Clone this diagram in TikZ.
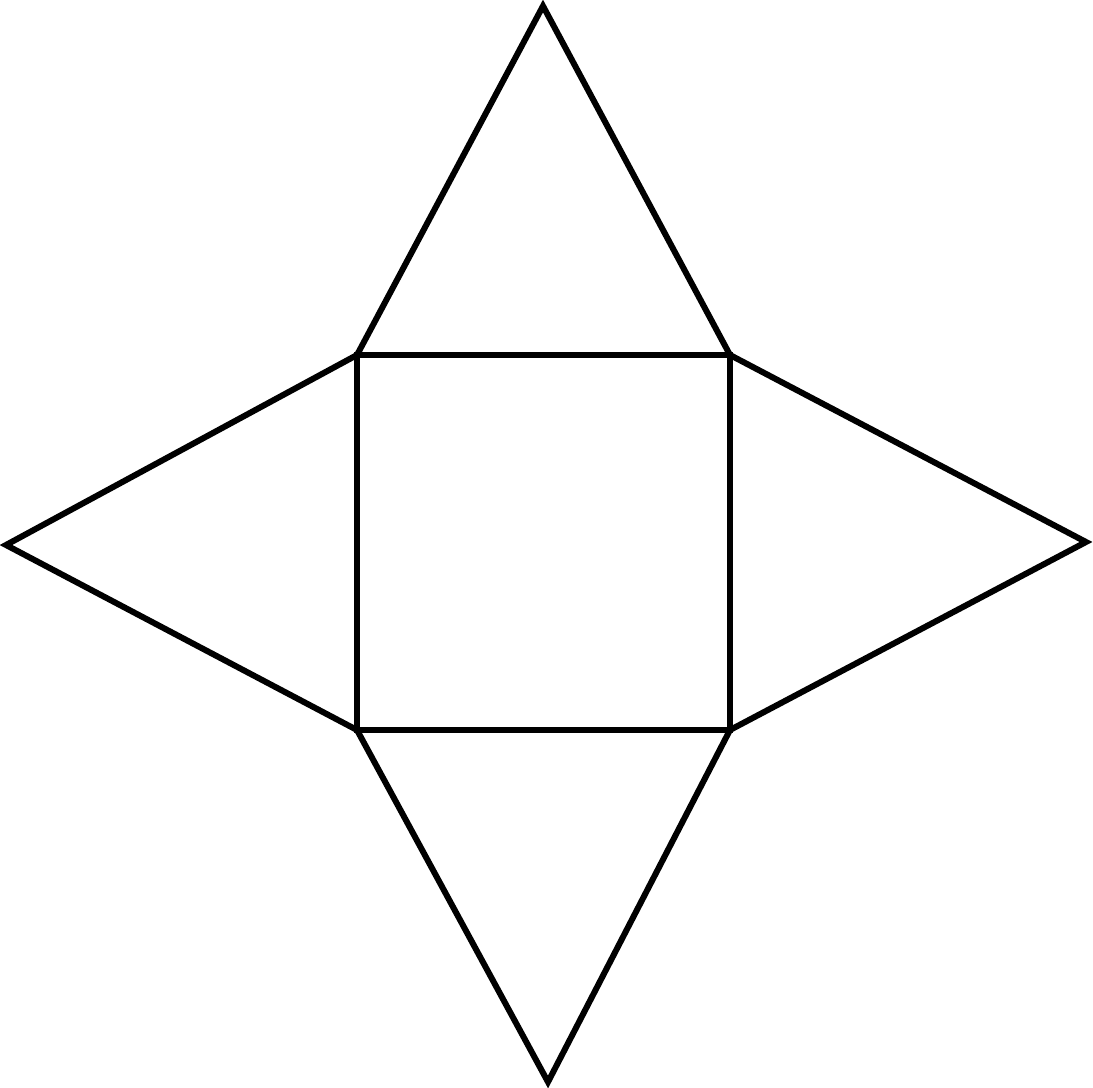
\documentclass[tikz,border=0pt]{standalone}
\usepackage{tikz}
\usetikzlibrary{calc}

\begin{document}
\begin{tikzpicture}[x=0.01cm,y=-0.01cm]
\tikzstyle{edge}=[line width=0.06cm,line join=miter]
\useasboundingbox (0,0) rectangle (1093,1088);
% square base
\coordinate (tl) at (357,355);
\coordinate (tr) at (730,355);
\coordinate (br) at (730,730);
\coordinate (bl) at (357,730);
% apexes of the faces
\coordinate (top) at (543,6);
\coordinate (right) at (1086,542);
\coordinate (bottom) at (548,1082);
\coordinate (left) at (6,545);

\draw[edge] (tl) -- (tr) -- (br) -- (bl) -- cycle;
\draw[edge] (tl) -- (top) -- (tr);
\draw[edge] (tr) -- (right) -- (br);
\draw[edge] (br) -- (bottom) -- (bl);
\draw[edge] (bl) -- (left) -- (tl);
\end{tikzpicture}
\end{document}
